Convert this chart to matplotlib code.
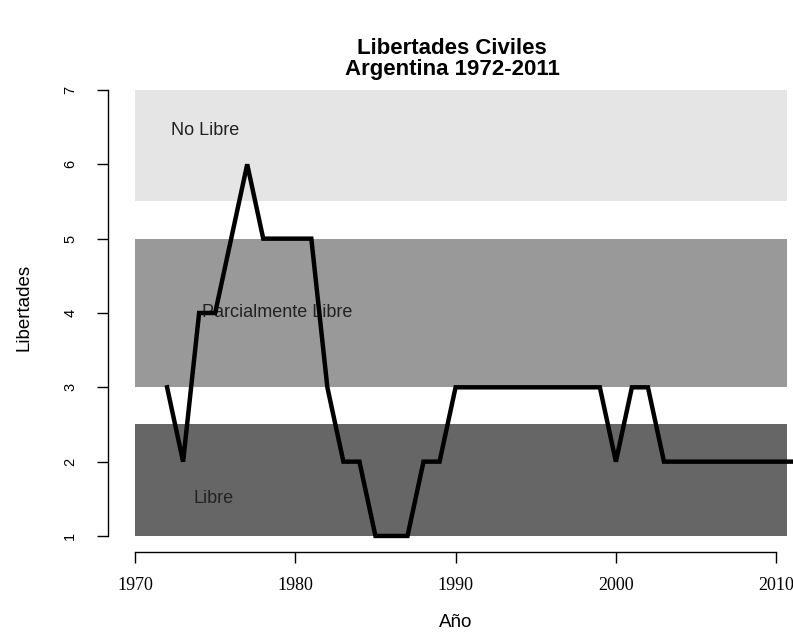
import matplotlib
matplotlib.use("Agg")
import matplotlib.pyplot as plt

# Freedom House civil liberties score, Argentina
years = list(range(1972, 2012))
libertades = [3, 2, 4, 4, 5, 6, 5, 5, 5, 5,
              3, 2, 2, 1, 1, 1, 2, 2, 3, 3,
              3, 3, 3, 3, 3, 3, 3, 3, 2, 3,
              3, 2, 2, 2, 2, 2, 2, 2, 2, 2]

# category bands: (label, low, high, colour, label x, label y)
bandas = [
    ("No Libre", 5.5, 7.0, "#e5e5e5", 1974.4, 6.45),
    ("Parcialmente Libre", 3.0, 5.0, "#999999", 1978.9, 4.0),
    ("Libre", 1.0, 2.5, "#666666", 1974.9, 1.5),
]
band_x = (1970, 2010.7)

x_ticks = [1970, 1980, 1990, 2000, 2010]
y_ticks = [1, 2, 3, 4, 5, 6, 7]

fig = plt.figure(figsize=(7.93, 6.32), dpi=100)
ax = fig.add_axes([0.0894, 0.1049, 0.9106, 0.788])
ax.set_xlim(1966, 2011.05)
ax.set_ylim(0.6, 7.3)

for name, lo, hi, col, tx, ty in bandas:
    ax.fill_between(band_x, lo, hi, color=col, linewidth=0, zorder=1)
    ax.text(tx, ty, name, ha="center", va="center", fontsize=13,
            family="Liberation Sans", color="#222222", zorder=2)

ax.plot(years, libertades, color="black", linewidth=3.2,
        solid_joinstyle="miter", zorder=3, clip_on=False)

for side in ("top", "right"):
    ax.spines[side].set_visible(False)
ax.spines["left"].set_position(("data", 1968.3))
ax.spines["left"].set_bounds(1, 7)
ax.spines["bottom"].set_position(("data", 0.785))
ax.spines["bottom"].set_bounds(1970, 2010)
for side in ("left", "bottom"):
    ax.spines[side].set_linewidth(1.0)

ax.set_xticks(x_ticks)
ax.set_xticklabels([str(t) for t in x_ticks], family="Liberation Serif", fontsize=13)
ax.set_yticks(y_ticks)
ax.set_yticklabels([str(t) for t in y_ticks], family="Liberation Sans",
                   fontsize=10.5, rotation=90, va="center")
ax.tick_params(direction="out", length=8, width=1.0, pad=10)
ax.tick_params(axis="y", pad=14)

fig.text(0.03, 0.514, "Libertades", rotation=90, ha="center", va="center",
         fontsize=13.5, family="Liberation Sans")
fig.text(0.575, 0.0155, "Año", ha="center", va="center",
         fontsize=13.5, family="Liberation Sans")
fig.text(0.57, 0.907, "Libertades Civiles\nArgentina 1972-2011", ha="center",
         va="center", fontsize=16, fontweight="bold", family="Liberation Sans",
         linespacing=1.0)

fig.savefig("out.png")
